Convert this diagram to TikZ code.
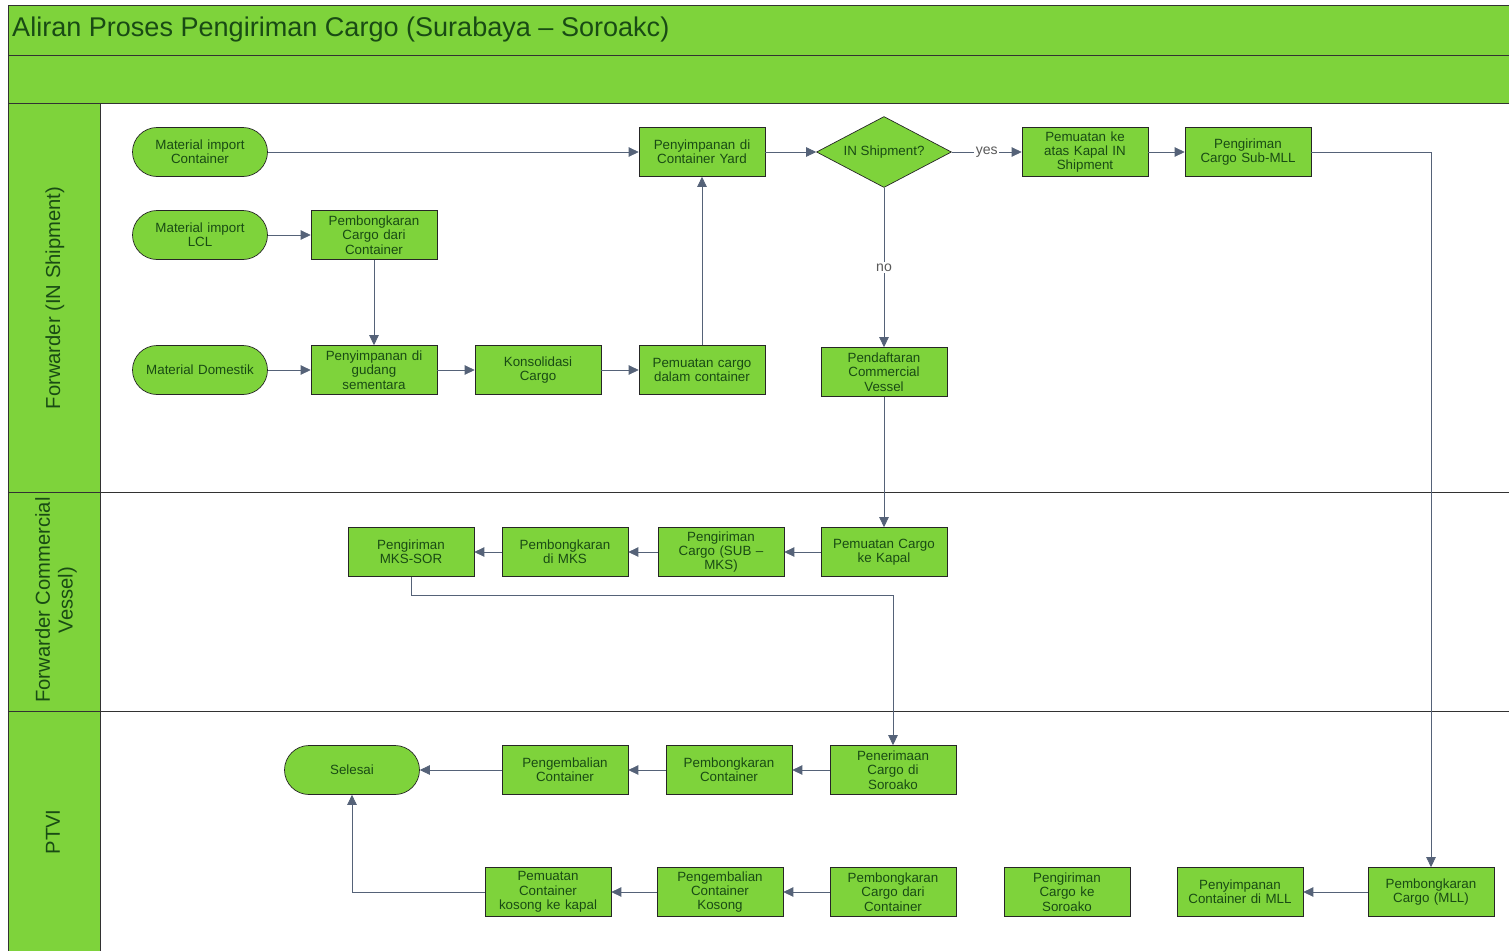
\documentclass[tikz,border=0pt]{standalone}
\usepackage{fontspec}
\setmainfont{Liberation Sans}
\usepackage{tikz}
\usetikzlibrary{arrows.meta,positioning,shapes.geometric}
\definecolor{laneGreen}{RGB}{126,211,59}
\definecolor{textGreen}{RGB}{25,75,20}
\definecolor{flowGray}{RGB}{85,98,120}
\definecolor{frameGray}{RGB}{50,50,50}

\begin{document}
\begin{tikzpicture}[x=0.02cm, y=-0.02cm,
    proc/.style={draw=black!85, fill=laneGreen, minimum width=2.52cm, minimum height=0.98cm,
        text width=2.45cm, align=center, inner sep=0pt, text=textGreen,
        font=\fontsize{7.6}{8.2}\selectfont},
    term/.style={proc, rounded corners=0.49cm, minimum width=2.7cm},
    decide/.style={diamond, aspect=1.9, draw=black!85, fill=laneGreen, minimum width=2.7cm, minimum height=1.42cm,
        inner sep=0pt, text=textGreen, font=\fontsize{7.6}{8.2}\selectfont},
    flow/.style={draw=flowGray, -{Triangle[length=0.2cm,width=0.19cm]}},
    lbl/.style={fill=white, inner sep=1pt, text=black!65, font=\fontsize{8}{9}\selectfont},
    lane/.style={rotate=90, align=center, text=textGreen, font=\fontsize{11.5}{13}\selectfont}
]
    \useasboundingbox (0,0) rectangle (1509,951);
    % Header and lanes
    \fill[laneGreen] (8,5) rectangle (1509,103);
    \fill[laneGreen] (8,103) rectangle (100,951);
    \draw[frameGray] (8,5) -- (1509,5);
    \draw[frameGray] (8,55) -- (1509,55);
    \draw[frameGray] (8,103) -- (1509,103);
    \draw[frameGray] (8,492) -- (1509,492);
    \draw[frameGray] (8,711) -- (1509,711);
    \draw[frameGray] (8,5) -- (8,951);
    \draw[frameGray] (100,103) -- (100,951);
    \node[anchor=west, text=textGreen, font=\fontsize{15.4}{17}\selectfont] (title) at (6,29)
        {Aliran Proses Pengiriman Cargo (Surabaya – Soroakc)};
    \node[lane] (laneIN) at (55,298) {Forwarder (IN Shipment)};
    \node[lane] (laneCV) at (56,600) {Forwarder Commercial\\Vessel)};
    \node[lane] (lanePT) at (53,832) {PTVI};

    % Forwarder (IN Shipment)
    \node[term] (mic) at (200,152) {Material import\\Container};
    \node[term] (lcl) at (200,235) {Material import\\LCL};
    \node[term] (dom) at (200,370) {Material Domestik};
    \node[proc] (pbk) at (374,235) {Pembongkaran\\Cargo dari\\Container};
    \node[proc] (gud) at (374,370) {Penyimpanan di\\gudang\\sementara};
    \node[proc] (kon) at (538,370) {Konsolidasi\\Cargo};
    \node[proc] (mua) at (702,370) {Pemuatan cargo\\dalam container};
    \node[proc] (cy) at (702,152) {Penyimpanan di\\Container Yard};
    \node[decide] (ship) at (884,152) {IN Shipment?};
    \node[proc] (kin) at (1085,152) {Pemuatan ke\\atas Kapal IN\\Shipment};
    \node[proc] (sml) at (1248,152) {Pengiriman\\Cargo Sub-MLL};
    \node[proc] (pcv) at (884,372) {Pendaftaran\\Commercial\\Vessel};

    % Forwarder Commercial Vessel
    \node[proc] (pck) at (884,552) {Pemuatan Cargo\\ke Kapal};
    \node[proc] (smk) at (721,552) {Pengiriman\\Cargo (SUB –\\MKS)};
    \node[proc] (bmk) at (565,552) {Pembongkaran\\di MKS};
    \node[proc] (mks) at (411,552) {Pengiriman\\MKS-SOR};

    % PTVI
    \node[proc] (pen) at (893,770) {Penerimaan\\Cargo di\\Soroako};
    \node[proc] (bct) at (729,770) {Pembongkaran\\Container};
    \node[proc] (kct) at (565,770) {Pengembalian\\Container};
    \node[term] (sel) at (352,770) {Selesai};
    \node[proc] (kos) at (548,892) {Pemuatan\\Container\\kosong ke kapal};
    \node[proc] (kck) at (720,892) {Pengembalian\\Container\\Kosong};
    \node[proc] (bcd) at (893,892) {Pembongkaran\\Cargo dari\\Container};
    \node[proc] (pks) at (1067,892) {Pengiriman\\Cargo ke\\Soroako};
    \node[proc] (sml2) at (1240,892) {Penyimpanan\\Container di MLL};
    \node[proc] (bml) at (1431,892) {Pembongkaran\\Cargo (MLL)};

    % Connectors
    \coordinate (bend1) at (893,595);
    \draw[flow] (mic) -- (cy);
    \draw[flow] (lcl) -- (pbk);
    \draw[flow] (pbk) -- (gud);
    \draw[flow] (dom) -- (gud);
    \draw[flow] (gud) -- (kon);
    \draw[flow] (kon) -- (mua);
    \draw[flow] (mua) -- (cy);
    \draw[flow] (cy) -- (ship);
    \draw[flow] (ship) -- node[lbl] {yes} (kin);
    \draw[flow] (kin) -- (sml);
    \draw[flow] (sml.east) -| (bml.north);
    \draw[flow] (ship) -- node[lbl] {no} (pcv);
    \draw[flow] (pcv) -- (pck);
    \draw[flow] (pck) -- (smk);
    \draw[flow] (smk) -- (bmk);
    \draw[flow] (bmk) -- (mks);
    \draw[flow] (mks.south) |- (bend1) -- (pen.north);
    \draw[flow] (pen) -- (bct);
    \draw[flow] (bct) -- (kct);
    \draw[flow] (kct) -- (sel);
    \draw[flow] (bml) -- (sml2);
    \draw[flow] (bcd) -- (kck);
    \draw[flow] (kck) -- (kos);
    \draw[flow] (kos.west) -| (sel.south);
\end{tikzpicture}
\end{document}
